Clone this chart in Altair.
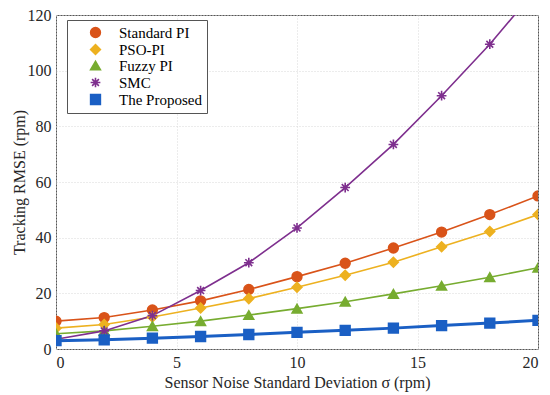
import altair as alt
import pandas as pd

sigma = [0, 2, 4, 6, 8, 10, 12, 14, 16, 18, 20]
standard_pi = [10.0, 11.3, 14.0, 17.3, 21.4, 26.0, 30.8, 36.3, 42.0, 48.3, 55.0]
pso_pi = [7.5, 8.8, 11.5, 14.7, 18.1, 22.2, 26.5, 31.2, 36.7, 42.2, 48.3]
fuzzy_pi = [5.5, 6.5, 8.2, 10.0, 12.2, 14.5, 17.0, 19.8, 22.7, 25.8, 29.2]
smc = [3.5, 6.5, 12.0, 21.0, 31.0, 43.5, 58.0, 73.5, 91.0, 109.5, 130.0]
proposed = [3.0, 3.3, 3.9, 4.5, 5.2, 6.0, 6.7, 7.5, 8.4, 9.3, 10.3]

names = ["Standard PI", "PSO-PI", "Fuzzy PI", "SMC", "The Proposed"]
colors = ["#D95319", "#EDB120", "#77AC30", "#7E2F8E", "#1A5FC4"]
asterisk = "M-1,0L1,0M0,-1L0,1M-0.7,-0.7L0.7,0.7M-0.7,0.7L0.7,-0.7"
shapes = ["circle", "diamond", "triangle-up", asterisk, "square"]

series = [standard_pi, pso_pi, fuzzy_pi, smc, proposed]
rows = []
for n, vals in zip(names, series):
    for s, v in zip(sigma, vals):
        rows.append({"sigma": s, "rmse": v, "series": n})
df = pd.DataFrame(rows)

font = "Liberation Serif"

x = alt.X("sigma:Q", scale=alt.Scale(domain=[0, 20], nice=False),
          axis=alt.Axis(title="Sensor Noise Standard Deviation σ (rpm)", values=[0, 5, 10, 15, 20],
                        labelFont=font, titleFont=font))
y = alt.Y("rmse:Q", scale=alt.Scale(domain=[0, 120], nice=False),
          axis=alt.Axis(title="Tracking RMSE (rpm)", values=[0, 20, 40, 60, 80, 100, 120],
                        labelFont=font, titleFont=font))
color_scale = alt.Scale(domain=names, range=colors)
shape_scale = alt.Scale(domain=names, range=shapes)
leg = alt.Legend(orient="none", legendX=11, legendY=5, title=None)

points = alt.Chart(df).mark_point(clip=True, filled=True, size=95, strokeWidth=1.6, opacity=1).encode(
    x=x, y=y,
    color=alt.Color("series:N", scale=color_scale, title=None, legend=leg),
    stroke=alt.Stroke("series:N", scale=color_scale, title=None, legend=leg),
    shape=alt.Shape("series:N", scale=shape_scale, title=None, legend=leg),
)

lines = alt.Chart(df).mark_line(clip=True).encode(
    x=x, y=y,
    color=alt.Color("series:N", scale=color_scale, title=None, legend=leg),
    strokeWidth=alt.condition(alt.datum.series == "The Proposed", alt.value(3), alt.value(1.6)),
)

chart = alt.layer(lines, points).properties(
    width=482, height=334,
    autosize=alt.AutoSizeParams(type="none"),
    padding={"left": 48, "top": 7, "right": 4, "bottom": 44},
).configure(font=font).configure_view(
    stroke="#555555", strokeWidth=1
).configure_axis(
    labelFont=font, titleFont=font, labelFontSize=16, titleFontSize=16,
    labelColor="#262626", titleColor="#262626", titleFontWeight="normal",
    grid=True, gridColor="#d9d9d9", gridDash=[1, 2],
    domain=False, ticks=False, labelPadding=5,
).configure_axisY(titlePadding=0).configure_axisX(titlePadding=4).configure_legend(
    labelFont=font, labelFontSize=15, labelColor="#000000",
    strokeColor="#555555", fillColor="white", padding=5,
    symbolSize=95, symbolStrokeWidth=1.6, symbolOpacity=1, rowPadding=0,
    symbolOffset=16, labelOffset=16,
)

chart.save("out.html", embed_options={"renderer": "svg", "actions": False})
